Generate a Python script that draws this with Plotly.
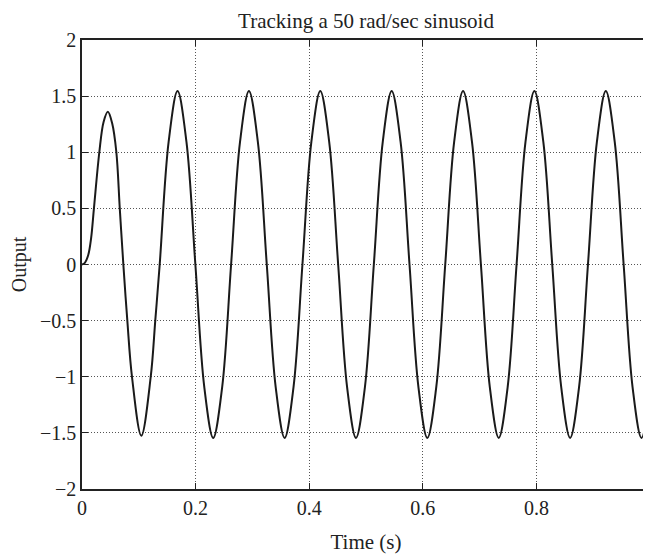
import plotly.graph_objects as go

# Time samples (s) and output values
time_s = [
    0.0, 0.005, 0.011, 0.016, 0.021, 0.0305, 0.038, 0.0455, 0.053, 0.0605, 0.0665, 0.0728,
    0.0798, 0.088, 0.1044, 0.121, 0.129,
    0.1368, 0.1525, 0.1682, 0.1839, 0.1996, 0.2153, 0.2310, 0.2468,
    0.2625, 0.2782, 0.2939, 0.3096, 0.3253, 0.3410, 0.3567, 0.3724,
    0.3881, 0.4038, 0.4195, 0.4352, 0.4510, 0.4667, 0.4824, 0.4981,
    0.5138, 0.5295, 0.5452, 0.5609, 0.5766, 0.5923, 0.6080, 0.6237,
    0.6395, 0.6552, 0.6709, 0.6866, 0.7023, 0.7180, 0.7337, 0.7494,
    0.7651, 0.7808, 0.7965, 0.8122, 0.8279, 0.8437, 0.8594, 0.8751,
    0.8908, 0.9065, 0.9222, 0.9379, 0.9536, 0.9693, 0.9850, 1.0,
]
output = [
    0.0, 0.015, 0.084, 0.233, 0.5, 1.0, 1.27, 1.36, 1.26, 1.0, 0.5, 0.0,
    -0.5, -1.0, -1.525, -1.0, -0.5,
    0.0, 1.092, 1.545, 1.092, 0.0, -1.092, -1.545, -1.092,
    0.0, 1.092, 1.545, 1.092, 0.0, -1.092, -1.545, -1.092,
    0.0, 1.092, 1.545, 1.092, 0.0, -1.092, -1.545, -1.092,
    0.0, 1.092, 1.545, 1.092, 0.0, -1.092, -1.545, -1.092,
    0.0, 1.092, 1.545, 1.092, 0.0, -1.092, -1.545, -1.092,
    0.0, 1.092, 1.545, 1.092, 0.0, -1.092, -1.545, -1.092,
    0.0, 1.092, 1.545, 1.092, 0.0, -1.092, -1.545, -1.13,
]

x_ticks = [0, 0.2, 0.4, 0.6, 0.8, 1.0]
x_tick_labels = ["0", "0.2", "0.4", "0.6", "0.8", "1"]
y_ticks = [-2, -1.5, -1, -0.5, 0, 0.5, 1, 1.5, 2]
y_tick_labels = ["\u22122", "\u22121.5", "\u22121", "\u22120.5", "0", "0.5", "1", "1.5", "2"]

title_text = "Tracking a 50 rad/sec sinusoid"
x_label = "Time (s)"
y_label = "Output"

FONT = "Liberation Serif, Times New Roman, serif"

fig = go.Figure()
fig.add_trace(go.Scatter(
    x=time_s, y=output, mode="lines",
    line=dict(color="#1a1a1a", width=2, shape="spline", smoothing=1.0),
    showlegend=False, hoverinfo="skip",
))

axis_common = dict(
    showline=True, linecolor="#222", linewidth=1.5, mirror="ticks",
    ticks="inside", ticklen=6, tickcolor="#222",
    showgrid=True, gridcolor="#555", griddash="1px,2px", gridwidth=1,
    zeroline=False, automargin=False, ticklabeloverflow="allow",
    tickfont=dict(family=FONT, size=20, color="#222"),
)

# page body has an 8px margin, so the figure is sized to fit the window
fig.update_layout(
    width=643, height=546,
    margin=dict(l=74, r=1, t=32, b=65),
    paper_bgcolor="white", plot_bgcolor="white",
    title=dict(text=title_text, x=0.5568, xanchor="center", y=0.977, yanchor="middle",
               font=dict(family=FONT, size=21, color="#222")),
    xaxis=dict(range=[0, 1], tickvals=x_ticks, ticktext=x_tick_labels,
               title=dict(text=x_label, font=dict(family=FONT, size=21, color="#222"), standoff=17),
               **axis_common),
    yaxis=dict(range=[-2, 2], tickvals=y_ticks, ticktext=y_tick_labels,
               title=dict(text=y_label, font=dict(family=FONT, size=20, color="#222"), standoff=16),
               **axis_common),
)

fig.write_html("out.html")
